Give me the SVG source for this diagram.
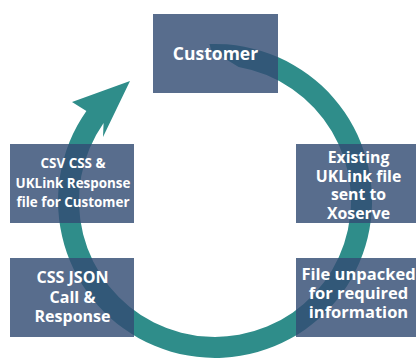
<svg xmlns="http://www.w3.org/2000/svg" width="416" height="361" viewBox="0 0 416 361">
  <style>
    .box { fill: #334d74; fill-opacity: 0.82; }
    .lbl { font-family: "Open Sans", Lato, "Liberation Sans", sans-serif; font-weight: 700; fill: #ffffff; text-anchor: middle; font-size: 13.4px; }
    .big { font-size: 17.5px; }
    .m { font-size: 16px; }
    .r { font-size: 15.8px; }
    .f { font-size: 16.5px; }
    .ring { fill: #2f8d8a; }
  </style>
  <rect width="416" height="361" fill="#ffffff"/>
  <g id="connectors">
    <path class="ring" d="M 209.5,44 A 157 157 0 1 1 86.4,110.9 L 72,102 L 130,81 L 103,137 L 103.6,122.9 A 136 136 0 1 0 238.6,67 L 211,50 Z"/>
  </g>
  <g id="customer">
    <rect class="box" x="153" y="14" width="125" height="79"/>
    <text class="lbl big" x="215.5" y="60">Customer</text>
  </g>
  <g id="csv-css">
    <rect class="box" x="10" y="144" width="124" height="79"/>
    <text class="lbl" x="73" y="168">CSV CSS &amp;</text>
    <text class="lbl" x="73" y="188">UKLink Response</text>
    <text class="lbl" x="73" y="207">file for Customer</text>
  </g>
  <g id="existing">
    <rect class="box" x="296" y="144" width="125" height="79"/>
    <text class="lbl r" x="358.5" y="163">Existing</text>
    <text class="lbl r" x="358.5" y="181.5">UKLink file</text>
    <text class="lbl r" x="358.5" y="200">sent to</text>
    <text class="lbl r" x="358.5" y="218.5">Xoserve</text>
  </g>
  <g id="css-json">
    <rect class="box" x="10" y="258" width="124" height="79"/>
    <text class="lbl m" x="72.5" y="283">CSS JSON</text>
    <text class="lbl m" x="72.5" y="302.5">Call &amp;</text>
    <text class="lbl m" x="72.5" y="322">Response</text>
  </g>
  <g id="file-unpacked">
    <rect class="box" x="296" y="258" width="125" height="79"/>
    <text class="lbl f" x="358.5" y="280">File unpacked</text>
    <text class="lbl f" x="358.5" y="299">for required</text>
    <text class="lbl f" x="358.5" y="318">information</text>
  </g>
</svg>
